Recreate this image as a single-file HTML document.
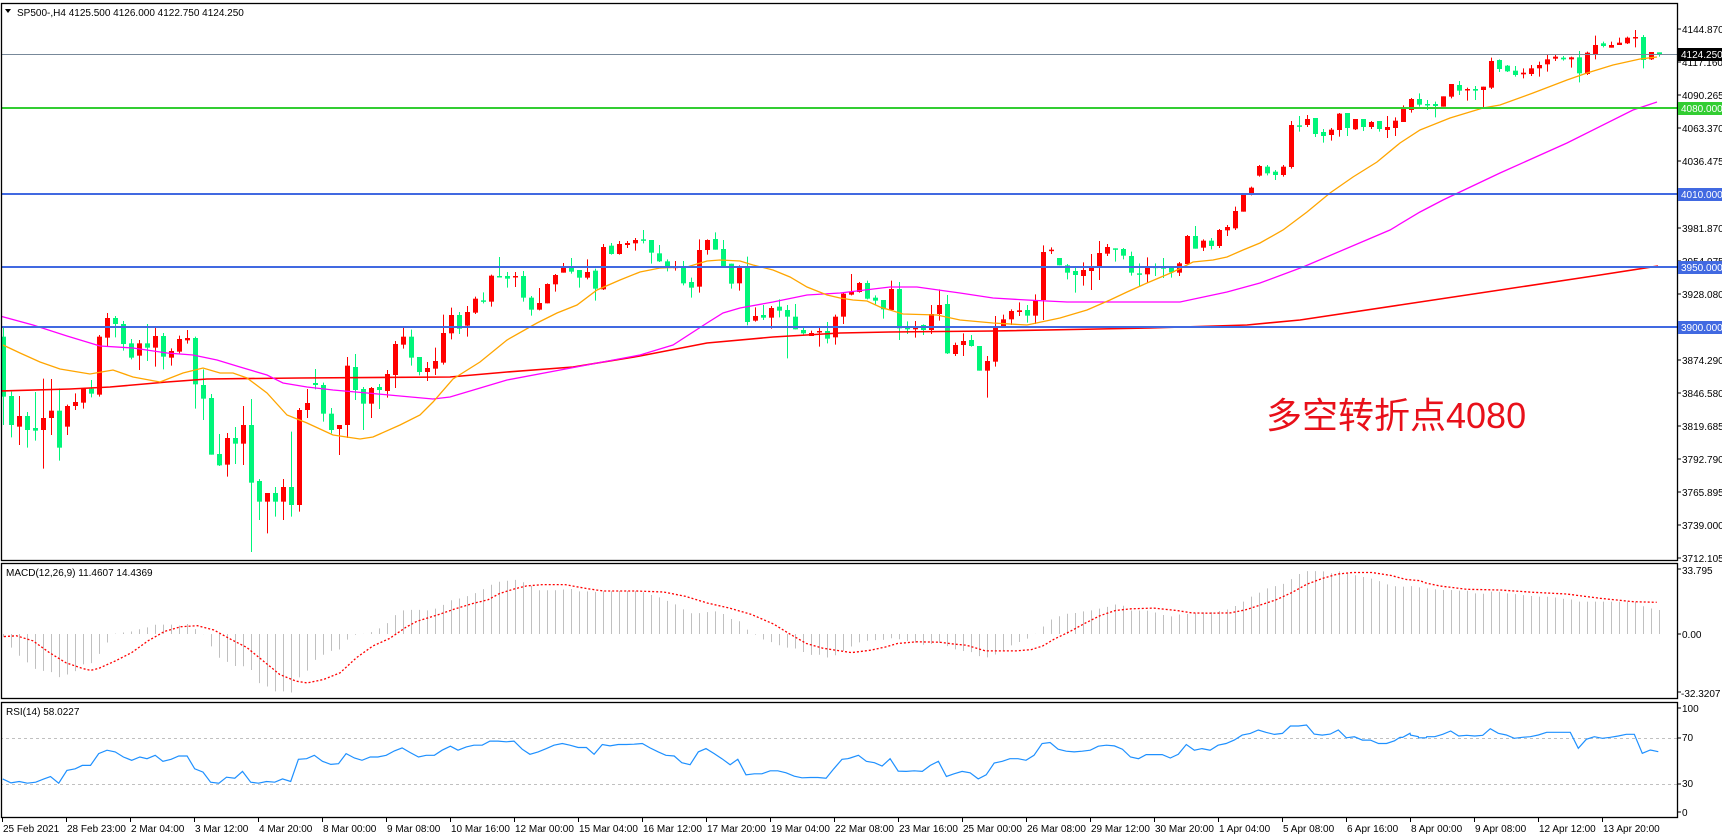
<!DOCTYPE html>
<html><head><meta charset="utf-8"><style>
html,body{margin:0;padding:0;background:#fff;}
svg{display:block;font-family:"Liberation Sans","Noto Sans CJK SC",sans-serif;}
</style></head><body>
<svg id="s" width="1722" height="838" viewBox="0 0 1722 838" xmlns="http://www.w3.org/2000/svg">
<rect width="1722" height="838" fill="#fff"/>
<defs>
<clipPath id="cm"><rect x="2" y="4" width="1675" height="556"/></clipPath>
<clipPath id="cd"><rect x="2" y="564" width="1675" height="134"/></clipPath>
<clipPath id="cr"><rect x="2" y="703" width="1675" height="114"/></clipPath>
</defs>
<g id="main" clip-path="url(#cm)"></g>
<g id="macd" clip-path="url(#cd)"></g>
<g id="rsi" clip-path="url(#cr)"></g>
<g id="frames" fill="none" stroke="#000" stroke-width="1.3">
<rect x="1.5" y="3.5" width="1676" height="557"/>
<rect x="1.5" y="563.5" width="1676" height="135"/>
<rect x="1.5" y="702.5" width="1676" height="115"/>
</g>
<g font-size="10" fill="#000">
<text x="17" y="16">SP500-,H4  4125.500 4126.000 4122.750 4124.250</text>
<text x="6" y="576">MACD(12,26,9) 11.4607 14.4369</text>
<text x="6" y="715">RSI(14) 58.0227</text>
</g>
<polygon points="5,9 11,9 8,13" fill="#000"/>
<text x="1266" y="428" font-size="36" fill="#e8101a" font-family="'Liberation Sans','Noto Sans CJK SC',sans-serif">多空转折点4080</text>
<g id="axis" font-size="10" fill="#000">
<text x="1682" y="33">4144.870</text>
<text x="1682" y="66">4117.160</text>
<text x="1682" y="99">4090.265</text>
<text x="1682" y="132">4063.370</text>
<text x="1682" y="165">4036.475</text>
<text x="1682" y="232">3981.870</text>
<text x="1682" y="265">3954.975</text>
<text x="1682" y="298">3928.080</text>
<text x="1682" y="364">3874.290</text>
<text x="1682" y="397">3846.580</text>
<text x="1682" y="430">3819.685</text>
<text x="1682" y="463">3792.790</text>
<text x="1682" y="496">3765.895</text>
<text x="1682" y="529">3739.000</text>
<text x="1682" y="562">3712.105</text>
<text x="1682" y="574">33.795</text>
<text x="1682" y="638">0.00</text>
<text x="1681" y="697">-32.3207</text>
<text x="1682" y="712">100</text>
<text x="1682" y="741">70</text>
<text x="1682" y="787">30</text>
<text x="1682" y="816">0</text>
</g>
<g id="tags" font-size="10" fill="#fff"></g>
<g id="xl" font-size="10" fill="#000"></g>
</svg>
<script>
const NS="http://www.w3.org/2000/svg";
function el(p,t,a){const e=document.createElementNS(NS,t);for(const k in a)e.setAttribute(k,a[k]);p.appendChild(e);return e;}
const main=document.getElementById('main'),macd=document.getElementById('macd'),rsi=document.getElementById('rsi');
const G5=[["G",410,590,380,675],["G",588,675,575,712],["R",648,680,588,735],["G",648,690,636,743],["G",684,692,576,722],["R",654,690,536,806],["R",632,654,537,705],["G",632,743,565,782],["R",618,680,614,705],["R",606,618,580,630],["R",566,608,566,626],["G",566,581,540,592],["R",410,584,405,590],["R",354,413,339,438],["G",354,372,348,412],["G",372,432,363,452],["G",430,473,417,478],["R",430,467,420,510],["G",430,443,372,483],["R",408,443,383,500],["G",408,470,399,508],["R",453,473,445,497],["R",417,455,407,460],["R",414,421,390,431],["G",414,553,410,626],["G",555,596,508,660],["G",594,764,582,764],["G",762,796,702,798],["R",714,794,699,830],["G",714,731,681,792],["R",675,731,618,795],["G",675,848,597,1056],["G",843,905,837,960],["R",879,905,879,1000],["G",879,905,861,950],["R",861,905,837,960],["G",861,915,695,950],["R",630,915,624,935],["R",609,630,567,654],["G",549,555,507,568],["G",555,641,548,665],["G",641,690,624,700],["R",675,687,675,765],["R",497,675,471,714],["G",501,570,462,600],["G",567,611,561,690],["R",564,611,561,654],["G",561,570,552,627],["R",522,573,510,593],["R",432,525,423,564],["R",410,434,383,446],["G",410,473,389,497],["G",471,516,471,526],["R",504,516,486,543],["R",483,506,443,525],["R",399,488,344,494]];
const G6=[["R",405,460,383,478],["G",405,446,396,462],["R",396,437,378,470],["R",356,398,350,402],["G",361,365,337,370],["R",287,365,284,380],["G",288,290,231,290],["G",288,296,276,323],["R",288,292,276,321],["G",288,353,273,365],["G",353,389,348,407],["R",369,389,324,391],["R",312,370,310,370],["R",285,313,282,335],["R",260,278,249,278],["G",260,275,234,281],["G",270,293,270,323],["R",276,293,238,298],["G",272,326,266,362],["R",201,328,192,330],["G",197,222,189,224],["R",192,222,183,224],["R",189,195,183,204],["R",180,190,174,212],["G",178,182,150,190],["G",180,218,180,251],["G",220,244,195,246],["G",244,262,238,274],["R",260,264,243,272],["G",262,310,243,316],["G",306,323,293,353],["R",210,320,178,338],["R",180,210,178,224],["G",177,209,157,209],["G",207,260,180,262],["G",251,311,251,326],["R",260,310,256,332],["G",260,426,230,436],["R",408,422,382,425],["G",405,413,375,420],["R",384,413,378,446],["G",380,392,358,412],["G",390,410,375,535],["G",410,448,372,448],["G",450,460,440,463],["R",459,468,452,468],["R",453,457,443,500],["G",453,476,426,490],["R",410,472,404,494],["R",341,410,336,432],["R",335,344,282,346],["R",309,336,306,338],["G",309,356,302,358],["G",353,362,346,373],["G",360,388,360,416]];
const G7=[["R",387,450,362,452],["G",387,505,366,540],["G",503,508,484,522],["R",503,508,483,533],["G",495,510,493,525],["R",462,510,435,522],["R",435,462,388,482],["G",432,580,405,582],["R",555,582,548,588],["R",543,555,520,588],["G",540,558,525,560],["G",558,632,558,632],["R",603,632,588,713],["R",503,605,468,620],["R",478,498,464,504],["R",453,478,448,495],["R",451,456,427,468],["G",450,467,435,488],["R",422,467,403,492],["R",276,420,256,480],["R",269,272,262,282],["G",294,316,294,316],["G",316,338,312,358],["G",333,345,320,398],["R",330,348,307,377],["R",318,333,282,390],["R",279,323,243,360],["R",261,281,252,288],["G",265,267,265,305],["G",267,287,264,298],["G",288,338,275,347],["G",340,344,310,378],["R",320,343,292,368],["G",320,322,310,348],["G",320,326,294,354],["G",324,337,322,353],["R",310,338,306,348],["R",228,312,225,315],["G",228,266,198,266],["R",242,263,238,273],["G",242,258,234,268],["R",210,258,207,264],["R",201,211,195,228],["R",153,205,140,210],["R",100,155,100,155]];
const G4=[["R",473,493,470,496],["R",408,437,405,440],["G",410,430,405,436],["G",425,435,420,450],["R",410,435,405,440],["R",285,411,273,416],["G",286,288,258,305],["R",267,285,255,291],["G",264,312,264,321],["G",306,318,297,338],["R",299,315,294,332],["R",251,300,249,320],["G",249,294,249,318],["R",267,298,267,300],["G",267,291,267,303],["R",276,291,273,297],["G",273,297,273,305],["R",291,300,258,324],["R",272,294,262,318],["R",237,276,226,276],["R",207,240,204,248]];
const G1=[["G",297,314,280,320],["G",312,316,300,330],["G",312,318,305,352],["R",289,320,289,320],["R",252,290,252,295],["G",255,272,243,285],["R",267,270,263,302],["G",267,272,258,300],["R",260,270,260,323],["R",183,263,173,267],["G",180,207,178,216],["G",197,214,195,216],["G",212,225,198,230],["R",218,223,205,235],["R",205,222,195,228],["R",195,205,185,230],["R",178,193,163,215],["R",170,176,162,183],["G",173,178,168,182],["R",172,178,170,203],["G",172,220,153,247],["R",158,222,155,225],["R",135,162,107,178],["G",130,138,125,142],["R",135,143,125,143],["R",128,135,113,135],["R",113,130,110,132],["R",111,115,90,142],["G",111,180,105,205],["R",156,178,156,180],["G",157,165,157,170]];
const groups=[[G5,200],[G6,180],[G7,160],[G4,30],[G1,0]];
let idx=0;
for(const [g,oy] of groups){for(const c of g){
 const cx=3+8*idx; const f=v=>oy+v/3;
 const col=c[0]=="R"?"#ff0000":"#00f57a";
 el(main,'line',{x1:cx+0.5,x2:cx+0.5,y1:f(c[3]),y2:f(c[4]),stroke:col,'stroke-width':1});
 let t=f(c[1]),b=f(c[2]); if(b-t<1.5){b=t+1.5;}
 el(main,'rect',{x:cx-2,y:t,width:5,height:b-t,fill:col});
 idx++;}}
function pl(p,pts,a){el(p,'polyline',Object.assign({points:pts.map(q=>q[0].toFixed(1)+','+q[1].toFixed(1)).join(' '),fill:'none'},a));}
el(main,'line',{x1:0,x2:1677,y1:54.5,y2:54.5,stroke:'#778899','stroke-width':1});
const red=[[0,391],[70,389],[110,387],[167,382],[207,379],[300,378],[450,377],[507,372],[573,367],[640,356],[707,343],[773,337],[840,333],[890,332],[993,331],[1150,328],[1247,325],[1300,320],[1400,305],[1500,290],[1600,275],[1658,266]];
pl(main,red,{stroke:'#ff0000','stroke-width':1.6});
const mag=[[0,316],[33,325],[67,336],[100,346],[133,348],[167,353],[193,355],[217,360],[240,367],[267,375],[283,383],[307,387],[333,390],[367,393],[400,396],[433,399],[450,397],[507,380],[640,355],[673,345],[707,323],[723,313],[740,308],[773,302],[807,295],[840,293],[890,287],[917,287],[960,293],[993,298],[1027,300],[1067,302],[1143,302],[1180,302],[1227,292],[1260,283],[1303,267],[1390,230],[1420,212],[1443,200],[1500,173],[1567,143],[1633,110],[1657,102]];
pl(main,mag,{stroke:'#ff00ff','stroke-width':1.3});
const ora=[[3,345],[20,353],[40,362],[60,369],[90,374],[113,370],[133,377],[160,382],[183,373],[203,368],[220,373],[233,373],[247,378],[267,393],[287,415],[307,423],[333,435],[360,439],[373,437],[400,425],[420,415],[433,402],[453,379],[480,362],[507,340],[537,323],[557,313],[577,305],[597,290],[620,280],[640,272],[660,268],[687,267],[707,261],[720,260],[740,261],[753,265],[773,270],[790,277],[807,287],[827,295],[840,298],[853,300],[867,301],[880,307],[903,314],[937,315],[960,320],[993,323],[1027,325],[1060,318],[1087,310],[1110,300],[1127,292],[1147,283],[1173,272],[1193,262],[1213,260],[1227,257],[1243,250],[1260,243],[1283,230],[1307,212],[1330,193],[1353,177],[1377,162],[1400,143],[1420,130],[1450,118],[1483,108],[1500,105],[1533,93],[1567,80],[1587,73],[1613,65],[1640,59],[1657,57]];
pl(main,ora,{stroke:'#ffa500','stroke-width':1.3});
el(main,'line',{x1:0,x2:1677,y1:108,y2:108,stroke:'#32cd32','stroke-width':2});
for(const y of [194,267,327])el(main,'line',{x1:0,x2:1677,y1:y,y2:y,stroke:'#4169e1','stroke-width':2});
const tags=document.getElementById('tags');
for(const [y,bg,t] of [[54,'#000','4124.250'],[108,'#32cd32','4080.000'],[194,'#4169e1','4010.000'],[267,'#4169e1','3950.000'],[327,'#4169e1','3900.000']]){
 el(tags,'rect',{x:1678,y:y-6,width:44,height:13,fill:bg});
 const tx=el(tags,'text',{x:1681,y:y+4});tx.textContent=t;}
const ax=document.getElementById('axis');
for(const y of [29,62,95,128,161,228,261,294,360,393,426,459,492,525,558,569,634,692,708,738,784,812])el(ax,'line',{x1:1677,x2:1681,y1:y,y2:y,stroke:'#000'});
const labs=["25 Feb 2021","28 Feb 23:00","2 Mar 04:00","3 Mar 12:00","4 Mar 20:00","8 Mar 00:00","9 Mar 08:00","10 Mar 16:00","12 Mar 00:00","15 Mar 04:00","16 Mar 12:00","17 Mar 20:00","19 Mar 04:00","22 Mar 08:00","23 Mar 16:00","25 Mar 00:00","26 Mar 08:00","29 Mar 12:00","30 Mar 20:00","1 Apr 04:00","5 Apr 08:00","6 Apr 16:00","8 Apr 00:00","9 Apr 08:00","12 Apr 12:00","13 Apr 20:00"];
const xl=document.getElementById('xl');
labs.forEach((t,k)=>{const x=2+64*k;el(xl,'line',{x1:x+0.5,x2:x+0.5,y1:818,y2:822,stroke:'#000'});const e=el(xl,'text',{x:x+1,y:832});e.textContent=t;});
const conv=(a,ox,oy,sx,sy)=>a.map(p=>[ox+p[0]/sx,oy+p[1]/sy]);
const h8=[[5,228],[20,260],[35,285],[50,305],[65,325],[80,330],[92,332],[107,348],[122,340],[137,330],[150,310],[165,308],[180,280],[195,245],[210,218],[225,215],[240,212],[255,205],[268,200],[283,192],[297,192],[312,192],[326,195],[341,190],[355,205],[370,220],[384,255],[399,290],[413,302],[428,315],[442,315],[457,325],[471,365],[486,375],[501,390],[515,390],[530,395],[544,350],[559,330],[573,298],[588,282],[603,270],[617,268],[631,238],[646,222],[660,220],[675,215],[689,205],[704,190],[719,165],[733,150],[748,148],[763,148],[777,150],[792,145],[806,135],[821,120],[835,115],[850,108],[864,100],[879,88],[893,75],[908,65],[923,62],[937,58],[952,65],[966,75],[981,90],[996,90],[1010,90],[1025,88],[1039,85],[1054,93],[1069,93],[1083,95],[1098,93],[1112,93],[1127,92],[1142,92],[1156,92],[1171,95],[1185,103],[1200,110],[1214,120],[1229,130],[1243,145],[1258,158],[1273,158],[1287,155],[1302,152],[1316,158],[1331,175],[1345,178],[1360,205],[1375,220],[1389,235],[1404,243],[1418,252],[1433,260],[1448,262],[1462,272],[1477,282],[1491,280],[1506,290],[1520,285]];
const h9=[[27,258],[48,245],[69,240],[90,238],[110,238],[131,232],[152,235],[173,240],[194,245],[215,252],[236,250],[257,245],[278,255],[298,265],[319,270],[340,272],[361,285],[382,290],[403,282],[424,270],[444,255],[465,245],[486,235],[507,222],[528,200],[549,178],[570,168],[591,160],[612,158],[633,153],[654,150],[675,145],[696,140],[717,132],[738,135],[759,150],[780,150],[800,150],[821,155],[842,163],[863,168],[884,162],[905,160],[926,158],[946,155],[967,155],[988,152],[1009,148],[1030,138],[1051,125],[1072,110],[1093,98],[1114,85],[1135,78],[1156,72],[1177,58],[1198,42],[1219,33],[1239,33],[1260,33],[1281,40],[1302,33],[1323,40],[1344,45],[1365,50],[1386,55],[1407,62],[1428,72],[1449,78],[1470,78],[1491,78],[1512,82],[1532,85]];
const h3=[[8,260],[32,258],[56,262],[80,265],[104,268],[128,270],[152,270],[176,272],[200,272],[222,280],[247,282],[271,275],[295,275],[319,280],[343,282],[367,285],[391,288],[415,290],[440,290],[463,292],[487,296],[511,298],[535,305],[559,305],[583,305],[607,305],[631,305],[655,305],[679,305],[703,305],[727,318],[751,325],[775,330]];
const hist=[].concat(conv(h8,0,560,1.823,2.97),conv(h9,840,560,2.613,2.97),conv(h3,1400,500,3,3)).sort((a,b)=>a[0]-b[0]);
function interp(a,x){if(x<=a[0][0])return a[0][1];for(let i=1;i<a.length;i++){if(x<=a[i][0]){const t=(x-a[i-1][0])/(a[i][0]-a[i-1][0]);return a[i-1][1]+t*(a[i][1]-a[i-1][1]);}}return a[a.length-1][1];}
for(let i=0;i<208;i++){const x=3+8*i;const y=interp(hist,x);el(macd,'line',{x1:x+0.5,x2:x+0.5,y1:634,y2:y,stroke:'#c0c0c0','stroke-width':1});}
const s8=[[0,228],[30,225],[60,240],[90,275],[120,305],[150,322],[165,328],[180,322],[210,300],[240,275],[270,240],[300,212],[330,198],[360,195],[390,208],[420,235],[450,260],[480,300],[510,340],[540,360],[560,365],[590,355],[620,335],[650,290],[680,255],[710,233],[740,200],[760,182],[800,162],[830,145],[860,130],[890,118],[910,100],[935,87],[960,77],[990,73],[1030,73],[1070,85],[1100,92],[1160,92],[1210,95],[1250,108],[1290,128],[1330,143],[1370,162],[1410,190],[1440,220],[1470,248],[1500,262],[1540,272]];
const s9=[[30,275],[80,268],[120,258],[150,248],[200,243],[260,244],[300,250],[330,253],[360,263],[380,270],[420,270],[460,270],[500,266],[530,255],[560,235],[600,213],[640,188],[680,165],[720,150],[760,145],[820,143],[880,150],[920,157],[960,158],[1020,157],[1060,148],[1100,133],[1140,118],[1180,97],[1220,72],[1260,55],[1300,42],[1340,37],[1390,37],[1440,46],[1480,58],[1530,68]];
const s3=[[60,242],[120,258],[200,268],[300,270],[400,277],[500,282],[600,295],[700,305],[770,307]];
const sig=[].concat(conv(s8,0,560,1.823,2.97),conv(s9,840,560,2.613,2.97),conv(s3,1400,500,3,3)).sort((a,b)=>a[0]-b[0]);
pl(macd,sig,{stroke:'#ff0000','stroke-width':1.3,'stroke-dasharray':'2,2'});
for(const y of [738,784])el(rsi,'line',{x1:0,x2:1677,y1:y+0.5,y2:y+0.5,stroke:'#c0c0c0','stroke-dasharray':'3,3'});
const r8=[[5,650],[20,662],[35,658],[50,663],[65,660],[80,650],[92,643],[107,663],[122,625],[137,620],[150,610],[165,610],[180,575],[195,565],[210,570],[225,585],[240,595],[255,585],[268,590],[283,580],[297,598],[312,592],[326,582],[341,582],[355,620],[370,630],[384,660],[399,663],[413,645],[428,648],[442,628],[457,660],[471,663],[486,658],[501,660],[515,650],[530,658],[544,592],[559,590],[573,580],[588,598],[603,607],[617,605],[631,575],[646,588],[660,595],[675,585],[689,585],[704,580],[719,567],[733,558],[748,572],[763,585],[777,580],[792,580],[806,565],[821,553],[835,565],[850,555],[864,550],[879,550],[893,538],[908,538],[923,540],[937,538],[952,562],[966,577],[981,570],[996,560],[1010,550],[1025,545],[1039,550],[1054,557],[1069,557],[1083,577],[1098,548],[1112,552],[1127,548],[1142,548],[1156,547],[1171,545],[1185,558],[1200,570],[1214,580],[1229,582],[1243,602],[1258,608],[1273,570],[1287,560],[1302,575],[1316,590],[1331,608],[1345,592],[1360,638],[1375,635],[1389,635],[1404,626],[1418,626],[1433,632],[1448,642],[1462,647],[1477,646],[1491,646],[1506,648],[1520,620],[1535,592],[1550,588]];
const r9=[[20,590],[48,580],[69,598],[90,602],[110,612],[131,590],[152,627],[173,628],[194,626],[215,628],[236,610],[257,598],[278,643],[298,635],[319,628],[340,632],[361,650],[382,638],[403,603],[424,598],[444,590],[465,590],[486,595],[507,580],[528,545],[549,542],[570,562],[591,568],[612,570],[633,568],[654,565],[675,553],[696,550],[717,552],[738,562],[759,585],[780,590],[800,578],[821,578],[842,578],[863,588],[884,577],[905,548],[926,565],[946,560],[967,565],[988,550],[1009,545],[1030,535],[1051,520],[1072,515],[1093,505],[1114,512],[1135,518],[1156,515],[1177,493],[1198,493],[1219,490],[1239,517],[1260,520],[1281,517],[1302,505],[1323,528],[1344,525],[1365,535],[1386,535],[1407,545],[1428,545],[1449,537],[1470,527],[1491,520],[1512,528],[1532,528]];
const r3=[[0,712],[30,700],[55,710],[80,710],[104,710],[128,703],[152,693],[176,708],[200,706],[224,708],[248,706],[271,686],[295,700],[319,705],[343,715],[367,712],[391,710],[415,705],[440,697],[463,697],[487,697],[511,697],[535,745],[559,718],[583,710],[607,715],[631,712],[655,708],[679,703],[703,703],[727,760],[751,750],[775,755]];
const rl=[].concat(conv(r8,0,560,1.823,2.97),conv(r9,840,560,2.613,2.97),conv(r3,1400,500,3,3)).sort((a,b)=>a[0]-b[0]);
pl(rsi,rl,{stroke:'#1e90ff','stroke-width':1.2});
</script>
</body></html>
